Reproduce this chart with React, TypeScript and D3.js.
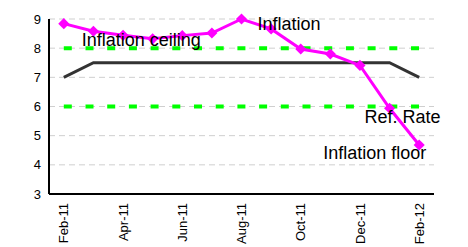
import * as d3 from "d3";

const months = [
  "Feb-11", "Mar-11", "Apr-11", "May-11", "Jun-11", "Jul-11", "Aug-11",
  "Sep-11", "Oct-11", "Nov-11", "Dec-11", "Jan-12", "Feb-12",
];
const inflation = [8.84, 8.58, 8.44, 8.32, 8.43, 8.52, 9.0, 8.66, 7.97, 7.8, 7.41, 5.94, 4.68];
const refRate = [7, 7.5, 7.5, 7.5, 7.5, 7.5, 7.5, 7.5, 7.5, 7.5, 7.5, 7.5, 7];
const ceiling = months.map(() => 8);
const floor = months.map(() => 6);
const yTicks = [3, 4, 5, 6, 7, 8, 9];
const xTickLabels = ["Feb-11", "Apr-11", "Jun-11", "Aug-11", "Oct-11", "Dec-11", "Feb-12"];

const width = 468;
const height = 247;
const margin = { top: 19, right: 34, bottom: 53, left: 49 };
const font = "'Liberation Sans', Arial, sans-serif";

export default function App() {
  const x = d3
    .scaleBand<string>()
    .domain(months)
    .range([margin.left, width - margin.right]);
  const cx = (m: string) => (x(m) ?? 0) + x.bandwidth() / 2;

  const y = d3
    .scaleLinear()
    .domain([3, 9])
    .range([height - margin.bottom, margin.top]);

  const line = d3
    .line<number>()
    .x((_, i) => cx(months[i]))
    .y((d) => y(d));

  const diamond = d3.symbol().type(d3.symbolSquare).size(62)();

  const x0 = margin.left;
  const x1 = width - margin.right;
  const yBottom = y(3);

  return (
    <svg
      width={width}
      height={height}
      style={{ position: "absolute", left: 0, top: 0, background: "#fff" }}
      fontFamily={font}
    >
      {/* grid */}
      {yTicks.filter((t) => t > 3).map((t) => (
        <line
          key={t}
          x1={x0}
          x2={x1}
          y1={y(t)}
          y2={y(t)}
          stroke="#cfcfcf"
          strokeDasharray="6,4"
        />
      ))}

      {/* inflation band */}
      {[ceiling, floor].map((s, k) => (
        <path
          key={k}
          d={line(s) ?? ""}
          fill="none"
          stroke="#00ff00"
          strokeWidth={4}
          strokeDasharray="8,13.7"
        />
      ))}

      <path d={line(refRate) ?? ""} fill="none" stroke="#333" strokeWidth={3} />

      <path d={line(inflation) ?? ""} fill="none" stroke="#ff00ff" strokeWidth={3} />
      {inflation.map((v, i) => (
        <path
          key={i}
          d={diamond ?? ""}
          fill="#ff00ff"
          transform={`translate(${cx(months[i])},${y(v)}) rotate(45)`}
        />
      ))}

      {/* axes */}
      <line x1={x0} x2={x0} y1={y(9)} y2={yBottom} stroke="#000" strokeWidth={2} />
      <line x1={x0} x2={x1} y1={yBottom} y2={yBottom} stroke="#000" strokeWidth={2} />

      {yTicks.map((t) => (
        <text
          key={t}
          x={x0 - 8}
          y={y(t)}
          dy="0.35em"
          textAnchor="end"
          fontSize={13}
          fill="#000"
        >
          {t}
        </text>
      ))}

      {xTickLabels.map((m) => (
        <text
          key={m}
          transform={`translate(${cx(m)},${yBottom + 9}) rotate(-90)`}
          dy="0.35em"
          textAnchor="end"
          fontSize={13}
          fill="#000"
        >
          {m}
        </text>
      ))}

      {/* annotations */}
      <g fontSize={18} fill="#000">
        <text x={cx("Feb-11") + 18} y={y(8) - 2}>Inflation ceiling</text>
        <text x={cx("Aug-11") + 16} y={y(9) + 11}>Inflation</text>
        <text x={cx("Jan-12") - 25} y={y(6) + 16}>Ref. Rate</text>
        <text x={cx("Feb-12") + 7} y={y(4) - 6} textAnchor="end">Inflation floor</text>
      </g>
    </svg>
  );
}
